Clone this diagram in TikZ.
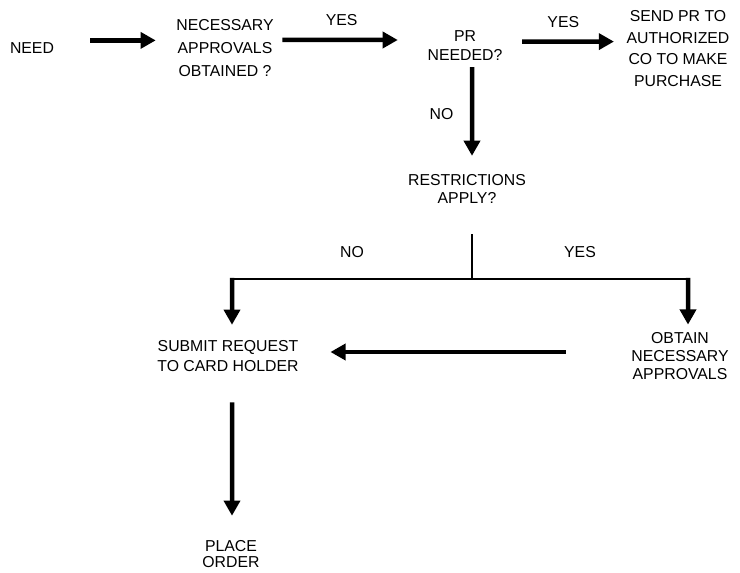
\documentclass[tikz,border=0pt]{standalone}
\usepackage{fontspec}
\setmainfont{Liberation Sans}
\usetikzlibrary{arrows.meta}

\begin{document}
\begin{tikzpicture}[->,>={Triangle[length=3.8mm,width=4mm]},line width=3.2pt,node distance=6cm,
                    box/.style={align=center, inner sep=0pt, font=\fontsize{11.25}{#1}\selectfont},
                    box/.default=13,
                    lbl/.style={inner sep=0pt, font=\fontsize{11.25}{13}\selectfont},
                    tree/.style={-, line width=1.7pt},]
                    \useasboundingbox (0,0) rectangle (18.5,-14.325);

                    \node [box](need) at (0.8,-1.2) {NEED};
                    \node [box=16.4](nao) [right of = need, xshift=-1.175cm]{NECESSARY\\APPROVALS\\OBTAINED ?};
                    \node [box=13.5](pr) [right of = nao, yshift=0.05cm]{PR\\NEEDED?};
                    \node [box=15.4](send) [right of = pr, xshift=-0.675cm, yshift=-0.06cm]{SEND PR TO\\AUTHORIZED\\CO TO MAKE\\PURCHASE};

                    \node [box=12.8](restr) [below of = pr, xshift=0.05cm, yshift=2.425cm]{RESTRICTIONS\\APPLY?};
                    \node [box=13.9](submit) [below of = nao, xshift=0.075cm, yshift=-1.7cm]{SUBMIT REQUEST\\TO CARD HOLDER};
                    \node [box=12.5](obtain) [right of = submit, xshift=5.3cm]{OBTAIN\\NECESSARY\\APPROVALS};
                    \node [box=11.4](place) [below of = submit, xshift=0.075cm, yshift=1.05cm]{PLACE\\ORDER};

                    \coordinate (fork) at (11.8,-6.975);
                    \coordinate (nobend) at (5.8,-6.975);
                    \coordinate (yesbend) at (17.2,-6.975);

                    \path[every node/.style={lbl}]
                        ([yshift=1.9mm]need.east) edge[shorten <=8.5mm, shorten >=4.6mm] ([yshift=1.9mm]nao.west)
                        ([yshift=2mm]nao.east) edge[shorten <=1.6mm, shorten >=6.9mm] node[pos=0.44, above=3.1mm]{YES} ([yshift=1.5mm]pr.west)
                        ([yshift=1.1mm]pr.east) edge[shorten <=4.4mm, shorten >=2.6mm] node[pos=0.49, above=2.8mm]{YES} ([yshift=1.7mm]send.west)
                        ([xshift=1.75mm]pr.south) edge[shorten <=1mm, shorten >=4.1mm] node[pos=0.467, left=4.1mm]{NO} ([xshift=1.25mm]restr.north)

                        ([xshift=1.25mm]restr.south) edge[tree, line width=1.4pt, shorten <=7.1mm] (fork)
                        (nobend) edge[tree] node[above=5.1mm]{NO} (fork)
                        (fork) edge[tree] node[above=5.1mm]{YES} (yesbend)
                        (nobend) edge[shorten <=-0.85pt, shorten >=3.4mm] ([xshift=1mm]submit.north)
                        (yesbend) edge[shorten <=-0.85pt, shorten >=1.5mm] ([xshift=2mm]obtain.north)

                        ([yshift=1mm]obtain.west) edge[shorten <=15.9mm, shorten >=7.4mm] ([yshift=1mm]submit.east)
                        ([xshift=1mm]submit.south) edge[shorten <=7.2mm, shorten >=5.6mm] ([xshift=0.25mm]place.north)
                    ;

                \end{tikzpicture}
\end{document}
